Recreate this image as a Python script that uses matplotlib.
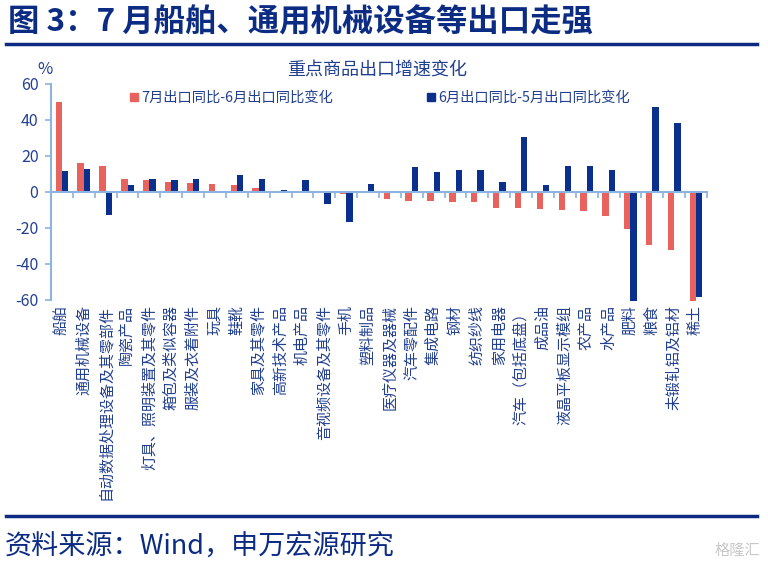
import matplotlib
matplotlib.use("Agg")
import matplotlib.pyplot as plt
import matplotlib.transforms as mtransforms
from matplotlib.lines import Line2D
import numpy as np

plt.rcParams['font.family'] = ['Noto Sans CJK SC', 'DejaVu Sans']

categories = ["船舶", "通用机械设备", "自动数据处理设备及其零部件", "陶瓷产品",
              "灯具、照明装置及其零件", "箱包及类似容器", "服装及衣着附件", "玩具",
              "鞋靴", "家具及其零件", "高新技术产品", "机电产品", "音视频设备及其零件",
              "手机", "塑料制品", "医疗仪器及器械", "汽车零配件", "集成电路", "钢材",
              "纺织纱线", "家用电器", "汽车（包括底盘）", "成品油", "液晶平板显示模组",
              "农产品", "水产品", "肥料", "粮食", "未锻轧铝及铝材", "稀土"]
jul_vs_jun = [50.0, 16.0, 14.3, 7.1, 6.5, 5.4, 4.8, 4.5, 3.6, 2.1,
              0.3, 0.3, 0.4, -1.0, -0.8, -4.0, -5.2, -5.2, -5.7, -5.7,
              -8.9, -9.3, -9.6, -10.2, -10.7, -13.4, -20.9, -29.9, -32.5, -60.7]
jun_vs_may = [11.3, 12.8, -13.0, 3.9, 7.1, 6.5, 7.1, 0.0, 9.1, 7.1,
              0.9, 6.7, -6.7, -17.0, 4.5, 0.0, 13.7, 10.8, 12.3, 12.3,
              5.6, 30.3, 3.5, 14.3, 14.3, 11.9, -60.7, 47.2, 38.4, -58.6]
legend_labels = ["7月出口同比-6月出口同比变化", "6月出口同比-5月出口同比变化"]
yticks = [-60, -40, -20, 0, 20, 40, 60]

RED = "#E8625E"
BLUE = "#0A2F8C"
AXC = "#8DB3E0"
TXT = "#22408F"
TITLE = "#0C2C84"

fig = plt.figure(figsize=(7.68, 5.73), dpi=100)
W, H = 768, 573
ax = fig.add_axes([51 / W, 1 - 299.5 / H, (707 - 51) / W, (299.5 - 84) / H])

x = np.arange(len(categories))
bw = 0.29
ax.bar(x - bw / 2, jul_vs_jun, width=bw, color=RED, clip_on=False, zorder=2)
ax.bar(x + bw / 2, jun_vs_may, width=bw, color=BLUE, clip_on=False, zorder=2)

ax.set_xlim(-0.5, len(categories) - 0.5)
ax.set_ylim(-60, 60)
for s in ['top', 'right']:
    ax.spines[s].set_visible(False)
ax.spines['left'].set_color(AXC)
ax.spines['left'].set_linewidth(1.5)
ax.spines['bottom'].set_position(('data', 0))
ax.spines['bottom'].set_color(AXC)
ax.spines['bottom'].set_linewidth(1.5)
ax.spines['bottom'].set_zorder(3)

ax.set_yticks(yticks)
ax.set_yticklabels([str(v) for v in yticks])
ax.tick_params(axis='y', colors=AXC, length=4, width=1.2, labelcolor=TXT,
               labelsize=11.5, pad=5)
ax.set_xticks(np.arange(-0.5, len(categories), 1.0))
ax.set_xticklabels([])
ax.tick_params(axis='x', colors=AXC, length=4, width=1.2, direction='out')

trans = mtransforms.blended_transform_factory(ax.transData, ax.transAxes)
for xi, lab in zip(x, categories):
    ax.text(xi, -0.025, lab, rotation=90, ha='center', va='top',
            transform=trans, fontsize=10.8, color=TXT)

# "%" label and chart title
fig.text(45 / W, 1 - 70 / H, "%", ha='center', va='center', fontsize=12, color=TXT)
fig.text(377 / W, 1 - 70 / H, "重点商品出口增速变化", ha='center', va='center',
         fontsize=13, color=TXT)

# legend
handles = [Line2D([], [], marker='s', color='none', markerfacecolor=RED,
                  markeredgecolor=RED, markersize=6),
           Line2D([], [], marker='s', color='none', markerfacecolor=BLUE,
                  markeredgecolor=BLUE, markersize=6)]
fig.legend([handles[0]], [legend_labels[0]], loc='center left',
           bbox_to_anchor=(124 / W, 1 - 98 / H), frameon=False, fontsize=10.3,
           handlelength=0.6, handletextpad=0.2, labelcolor=TXT, borderaxespad=0)
fig.legend([handles[1]], [legend_labels[1]], loc='center left',
           bbox_to_anchor=(421 / W, 1 - 98 / H), frameon=False, fontsize=10.3,
           handlelength=0.6, handletextpad=0.2, labelcolor=TXT, borderaxespad=0)

# header / footer
fig.text(8 / W, 1 - 22 / H, "图 3：7 月船舶、通用机械设备等出口走强", ha='left', va='center',
         fontsize=22.6, fontweight='bold', color=TITLE)
fig.add_artist(Line2D([6 / W, 757 / W], [1 - 44 / H, 1 - 44 / H], color=TITLE,
                      linewidth=2.5, transform=fig.transFigure))
fig.add_artist(Line2D([6 / W, 757 / W], [1 - 516 / H, 1 - 516 / H], color=TITLE,
                      linewidth=2.5, transform=fig.transFigure))
fig.text(5 / W, 1 - 546 / H, "资料来源：Wind，申万宏源研究", ha='left', va='center',
         fontsize=19.5, color=TITLE)
fig.text(760 / W, 1 - 550 / H, "格隆汇", ha='right', va='center',
         fontsize=11, color="#C8C8C8")

fig.savefig("out.png", dpi=100)
